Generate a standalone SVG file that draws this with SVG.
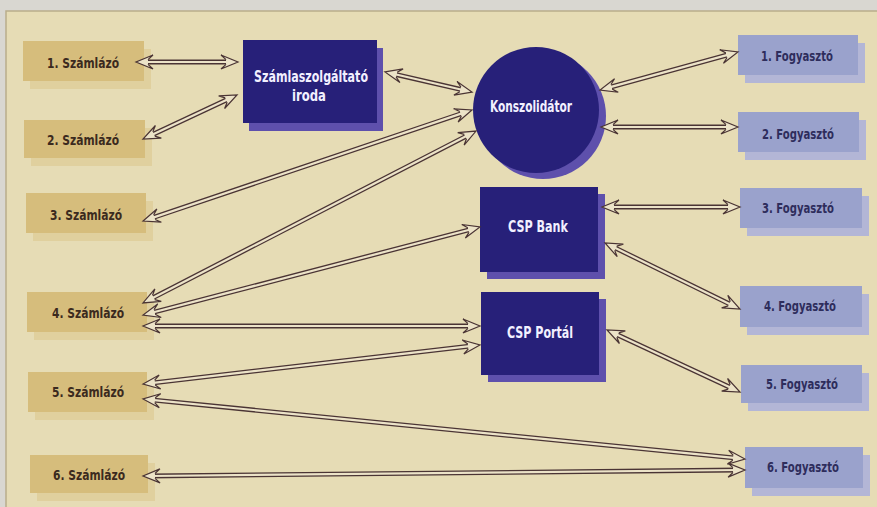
<svg xmlns="http://www.w3.org/2000/svg" width="877" height="507" viewBox="0 0 877 507">
<style>
.bill rect.face{fill:#d6bd7c}
.bill rect.sh{fill:#e0d09e}
.cons rect.face{fill:#9aa2cc}
.cons rect.sh{fill:#b3b6d6}
.hub .face{fill:#272079}
.hub .sh{fill:#5e50ac}
text{font-family:"Liberation Sans Narrow","DejaVu Sans Condensed","Liberation Sans",sans-serif;font-weight:bold;text-anchor:middle}
.bill text{fill:#3b2a1e;font-size:14.5px}
.cons text{fill:#2e2d5c;font-size:14.5px}
.hub text{fill:#f2f0ff;font-size:15.5px}
.outer path{fill:none;stroke:#4a3434;stroke-width:4.8}
.inner path{fill:none;stroke:#ece3c8;stroke-width:2.2;marker-start:url(#ah);marker-end:url(#ah)}
</style>
<defs>
<marker id="ah" markerUnits="userSpaceOnUse" orient="auto-start-reverse" viewBox="-19 -9 26 18" refX="-6" refY="0" markerWidth="26" markerHeight="18" overflow="visible">
<path d="M-12,-2.4 L-17,-7 L0,0 L-17,7 L-12,2.4" fill="#ece3c8" stroke="#4a3434" stroke-width="1.2" stroke-linejoin="miter"/>
</marker>
</defs>
<rect x="0" y="0" width="877" height="507" fill="#d9d7d1"/>
<rect x="6" y="11" width="880" height="510" fill="#e6dcb5" stroke="#b9ad8a" stroke-width="1.5"/>

<g id="szamlazo1" class="bill"><rect class="sh" x="30" y="49" width="121" height="40"/><rect class="face" x="23" y="41" width="121" height="40"/><text x="83" y="67.5" textLength="72" lengthAdjust="spacingAndGlyphs">1. Számlázó</text></g>
<g id="szamlazo2" class="bill"><rect class="sh" x="31" y="128" width="121" height="38"/><rect class="face" x="24" y="120" width="121" height="38"/><text x="83" y="145" textLength="72" lengthAdjust="spacingAndGlyphs">2. Számlázó</text></g>
<g id="szamlazo3" class="bill"><rect class="sh" x="33" y="201" width="120" height="40"/><rect class="face" x="26" y="193" width="120" height="40"/><text x="86" y="220" textLength="72" lengthAdjust="spacingAndGlyphs">3. Számlázó</text></g>
<g id="szamlazo4" class="bill"><rect class="sh" x="34" y="300" width="120" height="40"/><rect class="face" x="27" y="292" width="120" height="40"/><text x="88" y="318" textLength="72" lengthAdjust="spacingAndGlyphs">4. Számlázó</text></g>
<g id="szamlazo5" class="bill"><rect class="sh" x="35" y="380" width="119" height="40"/><rect class="face" x="28" y="372" width="119" height="40"/><text x="88" y="397" textLength="72" lengthAdjust="spacingAndGlyphs">5. Számlázó</text></g>
<g id="szamlazo6" class="bill"><rect class="sh" x="37" y="463" width="118" height="38"/><rect class="face" x="30" y="455" width="118" height="38"/><text x="89" y="480" textLength="72" lengthAdjust="spacingAndGlyphs">6. Számlázó</text></g>

<g id="iroda" class="hub"><rect class="sh" x="249" y="48" width="134" height="83"/><rect class="face" x="243" y="40" width="134" height="83"/><text x="311" y="82" textLength="114" lengthAdjust="spacingAndGlyphs">Számlaszolgáltató</text><text x="309" y="101" textLength="34" lengthAdjust="spacingAndGlyphs">iroda</text></g>
<g id="konszolidator" class="hub"><circle class="sh" cx="543" cy="116" r="63"/><circle class="face" cx="536" cy="110" r="63"/><text x="531" y="112" textLength="82" lengthAdjust="spacingAndGlyphs">Konszolidátor</text></g>
<g id="cspbank" class="hub"><rect class="sh" x="487" y="194" width="118" height="85"/><rect class="face" x="480" y="187" width="118" height="85"/><text x="538" y="232" textLength="60" lengthAdjust="spacingAndGlyphs">CSP Bank</text></g>
<g id="cspportal" class="hub"><rect class="sh" x="488" y="299" width="118" height="83"/><rect class="face" x="481" y="292" width="118" height="83"/><text x="540" y="338" textLength="66" lengthAdjust="spacingAndGlyphs">CSP Portál</text></g>

<g id="fogyaszto1" class="cons"><rect class="sh" x="745" y="43" width="120" height="40"/><rect class="face" x="738" y="35" width="120" height="40"/><text x="797" y="61" textLength="72" lengthAdjust="spacingAndGlyphs">1. Fogyasztó</text></g>
<g id="fogyaszto2" class="cons"><rect class="sh" x="745" y="120" width="121" height="40"/><rect class="face" x="738" y="112" width="121" height="40"/><text x="798" y="139" textLength="72" lengthAdjust="spacingAndGlyphs">2. Fogyasztó</text></g>
<g id="fogyaszto3" class="cons"><rect class="sh" x="747" y="196" width="122" height="40"/><rect class="face" x="740" y="188" width="122" height="40"/><text x="798" y="213" textLength="72" lengthAdjust="spacingAndGlyphs">3. Fogyasztó</text></g>
<g id="fogyaszto4" class="cons"><rect class="sh" x="747" y="294" width="122" height="41"/><rect class="face" x="740" y="286" width="122" height="41"/><text x="800" y="311" textLength="72" lengthAdjust="spacingAndGlyphs">4. Fogyasztó</text></g>
<g id="fogyaszto5" class="cons"><rect class="sh" x="748" y="373" width="121" height="38"/><rect class="face" x="741" y="365" width="121" height="38"/><text x="802" y="389" textLength="72" lengthAdjust="spacingAndGlyphs">5. Fogyasztó</text></g>
<g id="fogyaszto6" class="cons"><rect class="sh" x="752" y="455" width="118" height="41"/><rect class="face" x="745" y="447" width="118" height="41"/><text x="803" y="472" textLength="72" lengthAdjust="spacingAndGlyphs">6. Fogyasztó</text></g>

<g id="connectors">
<g class="outer">
<path d="M142,62 L232,62"/>
<path d="M148.4,136.5 L231.6,97.5"/>
<path d="M390.8,73.3 L466.2,90.7"/>
<path d="M148.7,219.1 L466.3,111.9"/>
<path d="M148.3,300.2 L470.7,133.8"/>
<path d="M148.8,313.5 L474.2,228.5"/>
<path d="M149,326 L474,326"/>
<path d="M149,383.3 L474,345.7"/>
<path d="M149,399.6 L739,458.4"/>
<path d="M149,476 L739,470"/>
<path d="M605.8,88.4 L732.2,53.6"/>
<path d="M607,127 L732,127"/>
<path d="M608,207 L734,207"/>
<path d="M610.4,245.6 L734.6,306.4"/>
<path d="M612.4,332.5 L734.6,389.5"/>
</g>
<g class="inner">
<path d="M142,62 L232,62"/>
<path d="M148.4,136.5 L231.6,97.5"/>
<path d="M390.8,73.3 L466.2,90.7"/>
<path d="M148.7,219.1 L466.3,111.9"/>
<path d="M148.3,300.2 L470.7,133.8"/>
<path d="M148.8,313.5 L474.2,228.5"/>
<path d="M149,326 L474,326"/>
<path d="M149,383.3 L474,345.7"/>
<path d="M149,399.6 L739,458.4"/>
<path d="M149,476 L739,470"/>
<path d="M605.8,88.4 L732.2,53.6"/>
<path d="M607,127 L732,127"/>
<path d="M608,207 L734,207"/>
<path d="M610.4,245.6 L734.6,306.4"/>
<path d="M612.4,332.5 L734.6,389.5"/>
</g>
</g>
</svg>
